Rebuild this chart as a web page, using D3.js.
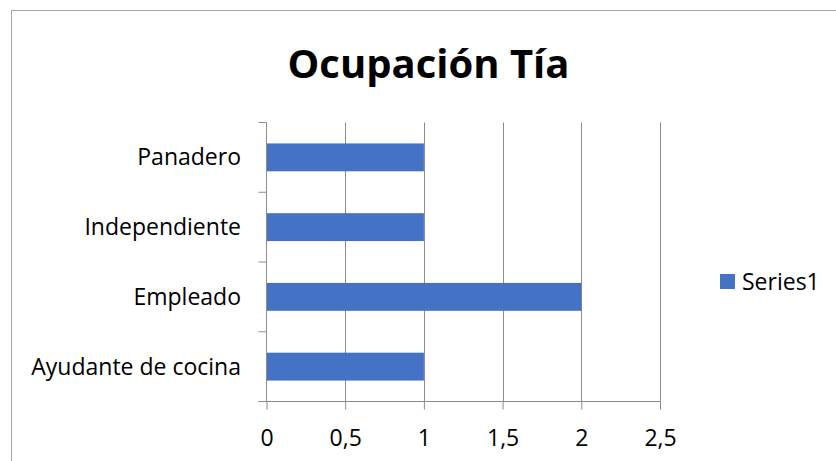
<!DOCTYPE html>
<html>
<head>
<meta charset="utf-8">
<script src="https://cdn.jsdelivr.net/npm/d3@7"></script>
<style>
  body { margin: 0; background: #fff; }
  text { font-family: "Open Sans", Lato, sans-serif; fill: #000; }
</style>
</head>
<body>
<div id="chart"></div>
<script>
// Data (Excel order: first category sits at the bottom)
const categories = ["Ayudante de cocina", "Empleado", "Independiente", "Panadero"];
const values = [1, 2, 1, 1];
const xTicks = [0, 0.5, 1, 1.5, 2, 2.5];
const seriesName = "Series1";
const title = "Ocupación Tía";

const W = 836, H = 461;
const plot = { left: 266.5, right: 660, top: 122.5, bottom: 401.5 };
const labelSize = "23px";

const data = categories.map((c, i) => ({ cat: c, val: values[i] }));

const svg = d3.select("#chart")
  .append("svg")
  .attr("width", W)
  .attr("height", H);

// chart border (runs off right and bottom edges)
svg.append("rect")
  .attr("x", 11.5).attr("y", 10.5)
  .attr("width", W).attr("height", H)
  .attr("fill", "none")
  .attr("stroke", "#a6a6a6")
  .attr("stroke-width", 1);

const x = d3.scaleLinear()
  .domain([0, 2.5])
  .range([plot.left, plot.right]);

const y = d3.scaleBand()
  .domain(categories.slice().reverse())
  .range([plot.top, plot.bottom])
  .paddingInner(0.6)
  .paddingOuter(0.3);

const comma = d => String(d).replace(".", ",");

// vertical gridlines
svg.append("g")
  .selectAll("line")
  .data(xTicks.slice(1))
  .enter()
  .append("line")
  .attr("x1", d => Math.round(x(d)) + 0.5)
  .attr("x2", d => Math.round(x(d)) + 0.5)
  .attr("y1", plot.top)
  .attr("y2", plot.bottom)
  .attr("stroke", "#8c8c8c")
  .attr("stroke-width", 1);

// bars
svg.append("g")
  .selectAll("rect")
  .data(data)
  .enter()
  .append("rect")
  .attr("x", x(0))
  .attr("y", d => y(d.cat))
  .attr("width", d => x(d.val) - x(0))
  .attr("height", y.bandwidth())
  .attr("fill", "#4472c4");

// x axis
const xAxis = d3.axisBottom(x)
  .tickValues(xTicks)
  .tickSize(8)
  .tickFormat(comma);

const gx = svg.append("g")
  .attr("transform", `translate(0,${plot.bottom})`)
  .call(xAxis);
gx.select(".domain").attr("stroke", "#8c8c8c").attr("d", `M${plot.left - 8},0H${plot.right}`);
gx.selectAll(".tick line").attr("stroke", "#8c8c8c");
gx.selectAll(".tick text")
  .attr("y", 44)
  .attr("dy", "0")
  .style("font-size", labelSize)
  .style("font-family", "'Open Sans', sans-serif")
  .attr("fill", "#000");

// y axis line and category boundary ticks
const step = y.step();
const bounds = categories.map((c, i) => plot.top + i * step).concat([plot.bottom]);
svg.append("line")
  .attr("x1", plot.left).attr("x2", plot.left)
  .attr("y1", plot.top).attr("y2", plot.bottom)
  .attr("stroke", "#8c8c8c");
svg.append("g")
  .selectAll("line")
  .data(bounds)
  .enter()
  .append("line")
  .attr("x1", plot.left - 8).attr("x2", plot.left)
  .attr("y1", d => d).attr("y2", d => d)
  .attr("stroke", "#8c8c8c");

// category labels
svg.append("g")
  .selectAll("text")
  .data(categories)
  .enter()
  .append("text")
  .attr("x", 241)
  .attr("y", d => y(d) + y.bandwidth() / 2 + 8)
  .attr("text-anchor", "end")
  .style("font-size", labelSize)
  .text(d => d);

// title
svg.append("text")
  .attr("x", 428.5)
  .attr("y", 78)
  .attr("text-anchor", "middle")
  .style("font-size", "40px")
  .style("font-weight", "bold")
  .text(title);

// legend
const legend = svg.append("g")
  .attr("transform", "translate(720,274)");
legend.append("rect")
  .attr("width", 15).attr("height", 15)
  .attr("fill", "#4472c4");
legend.append("text")
  .attr("x", 22).attr("y", 16)
  .style("font-size", labelSize)
  .text(seriesName);
</script>
</body>
</html>
